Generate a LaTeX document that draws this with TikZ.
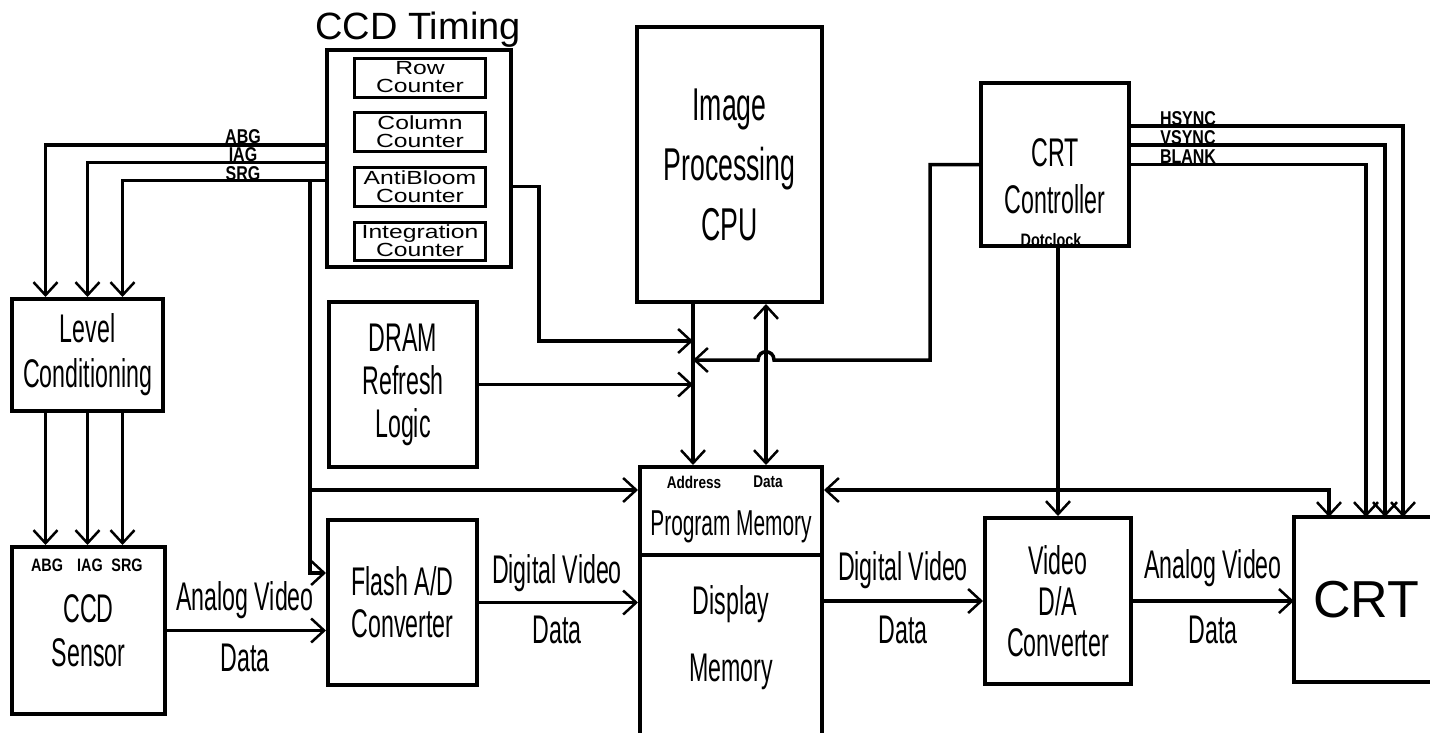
\documentclass[tikz,border=0pt]{standalone}
\usepackage{fontspec}
\setmainfont{Liberation Sans}
\newfontfamily\condfont{Liberation Sans}[FakeStretch=0.58]
\newfontfamily\tagfont{Liberation Sans}[FakeStretch=0.8]
\newfontfamily\wideface{Liberation Sans}[FakeStretch=1.3]
\usetikzlibrary{arrows.meta,positioning}
\tikzstyle{blk}=[rectangle,draw,line width=4pt,align=center,inner sep=0pt,font=\condfont\fontsize{40}{44}\selectfont]
\tikzstyle{ctr}=[rectangle,draw,line width=3pt,align=center,inner sep=0pt,minimum width=131pt,font=\wideface\fontsize{19}{18}\selectfont]
\tikzstyle{lbl}=[inner sep=0pt,align=center,font=\condfont\fontsize{40}{44}\selectfont]
\tikzstyle{tag}=[inner sep=0pt,font=\tagfont\bfseries\fontsize{20}{20}\selectfont]
\tikzstyle{arr}=[-{Straight Barb[length=13pt,width=24pt,line width=2.5pt]},line width=3.5pt]
\tikzstyle{arrs}=[{Straight Barb[length=13pt,width=24pt,line width=2.5pt]}-{Straight Barb[length=13pt,width=24pt,line width=2.5pt]},line width=3.5pt]

\begin{document}
\begin{tikzpicture}[x=1pt,y=-1pt]
\useasboundingbox (0,0) rectangle (1430,732);
\clip (0,0) rectangle (1430,732);
% timing block with its counters
\node[blk,minimum width=184pt,minimum height=217pt] (timing) at (419,158.5) {};
\node[inner sep=0pt,font=\fontsize{38}{40}\selectfont] (timingtitle) at (418,30) {CCD Timing};
\node[ctr,minimum height=39pt] (row) at (420,77.5) {Row\\Counter};
\node[ctr,minimum height=39pt] (column) at (420,132) {Column\\Counter};
\node[ctr,minimum height=39pt] (anti) at (420,186.5) {AntiBloom\\Counter};
\node[ctr,minimum height=38pt] (integ) at (420,241) {Integration\\Counter};
% main blocks
\node[blk,minimum width=185pt,minimum height=275pt,font=\condfont\fontsize{46}{60}\selectfont] (cpu) at (729.5,164.5) {Image\\Processing\\CPU};
\node[blk,minimum width=148pt,minimum height=163pt] (crtc) at (1055,164.5) {};
\node[lbl,font=\condfont\fontsize{40}{47}\selectfont] (crtctext) at (1055,176) {CRT\\Controller};
\node[blk,minimum width=151pt,minimum height=112pt,font=\condfont\fontsize{40}{45}\selectfont] (level) at (87.5,355) {Level\\Conditioning};
\node[blk,minimum width=148pt,minimum height=165pt,font=\condfont\fontsize{40}{43}\selectfont] (dram) at (403,384.5) {DRAM\\Refresh\\Logic};
\node[blk,minimum width=153pt,minimum height=167pt] (sensor) at (88.5,630.5) {CCD\\Sensor};
\node[blk,minimum width=149pt,minimum height=165pt,font=\condfont\fontsize{40}{42}\selectfont] (flash) at (402.5,602.5) {Flash A/D\\Converter};
\node[blk,minimum width=182pt,minimum height=88pt] (progmem) at (731,511) {};
\node[blk,minimum width=182pt,minimum height=200pt] (dispmem) at (731,655) {};
\node[blk,minimum width=146pt,minimum height=166pt,font=\condfont\fontsize{40}{41}\selectfont] (dac) at (1058,601) {Video\\D/A\\Converter};
\node[rectangle,inner sep=0pt,minimum width=180pt,minimum height=165pt] (crt) at (1384,599.5) {};
\draw[line width=4pt] (crt.north east) -- (crt.north west) -- (crt.south west) -- (crt.south east);
\node[inner sep=0pt,font=\fontsize{52}{56}\selectfont] (crttext) at (1366,599.5) {CRT};
% texts inside the memory
\node[lbl,font=\condfont\fontsize{36}{40}\selectfont] (pmtext) at (731,527) {Program Memory};
\node[lbl,font=\condfont\fontsize{40}{67}\selectfont] (disptext) at (731,638) {Display\\Memory};
\node[tag,font=\tagfont\bfseries\fontsize{17}{17}\selectfont] (addrtag) at (694,482) {Address};
\node[tag,font=\tagfont\bfseries\fontsize{17}{17}\selectfont] (datatag) at (768,482) {Data};
\node[tag,font=\tagfont\bfseries\fontsize{18}{18}\selectfont] (dottag) at (1051,240) {Dotclock};
\node[tag,font=\tagfont\bfseries\fontsize{18}{18}\selectfont] (sabg) at (47,565) {ABG};
\node[tag,font=\tagfont\bfseries\fontsize{18}{18}\selectfont] (siag) at (90,565) {IAG};
\node[tag,font=\tagfont\bfseries\fontsize{18}{18}\selectfont] (ssrg) at (127,565) {SRG};
% bus points
\coordinate (abus) at ([xshift=-36.5pt]cpu.south);
\coordinate (dbus) at ([xshift=36.5pt]cpu.south);
\path (abus) ++(0,37) coordinate (t1) ++(0,19) coordinate (t2);
\path (t2 -| dbus) ++(8,0) coordinate (hopR) ++(-16,0) coordinate (hopL);
\coordinate (tap) at (310,180.5);
\coordinate (tapm) at (310,490);
\coordinate (dj) at (dac.north |- tapm);
\coordinate (crtin) at (1329,517);
% clock lines to the level conditioning
\draw[arr] ([yshift=13.5pt]timing.west) -| ([xshift=-42pt]level.north);
\draw[arr] ([yshift=-4pt]timing.west) -| (level.north);
\draw[arr] ([yshift=-22pt]timing.west) -| ([xshift=35pt]level.north);
\node[tag] (labg) at (243,137) {ABG};
\node[tag] (liag) at (243,155) {IAG};
\node[tag] (lsrg) at (243,174) {SRG};
\draw[arr] ([xshift=-42pt]level.south) -- ([xshift=-42pt]level.south |- sensor.north);
\draw[arr] (level.south) -- (level.south |- sensor.north);
\draw[arr] ([xshift=35pt]level.south) -- ([xshift=35pt]level.south |- sensor.north);
% SRG tap
\draw[arr] (tap) |- ([yshift=29.5pt]flash.west);
\draw[arr] (tapm) -- (tapm -| progmem.west);
% video path
\draw[arr] (sensor.east) -- (sensor.east -| flash.west);
\node[lbl] (av1) at (245,600) {Analog Video};
\node[lbl] (dt1) at (245,658) {Data};
\draw[arr] (flash.east) -- (flash.east -| dispmem.west);
\node[lbl] (dv1) at (557,573) {Digital Video};
\node[lbl] (dt2) at (557,630) {Data};
\draw[arr] (dac.west -| dispmem.east) -- (dac.west);
\node[lbl] (dv2) at (903,570) {Digital Video};
\node[lbl] (dt3) at (903,630) {Data};
\draw[arr] (dac.east) -- (dac.east -| crt.west);
\node[lbl] (av2) at (1213,568) {Analog Video};
\node[lbl] (dt4) at (1213,630) {Data};
% cpu buses
\draw[arr] (abus) -- (abus |- progmem.north);
\draw[arrs] (dbus) -- (dbus |- progmem.north);
\draw[arr] (timing.east |- anti.east) -- ++(26,0) |- (t1);
\draw[arr] (dram.east) -- (dram.east -| abus);
\draw[arr] (crtc.west) -- ++(-49,0) |- (hopR) .. controls +(0,-11) and +(0,-11) .. (hopL) -- (t2);
% crt controller outputs
\draw[arr] (crtc.south -| dac.north) -- (dac.north);
\draw[arr] (dj) -- (dj -| progmem.east);
\draw[arr] (dj) -| (crtin);
\draw[arr] ([yshift=38.5pt]crtc.east) -| ([xshift=74pt]crtin);
\draw[arr] ([yshift=19.5pt]crtc.east) -| ([xshift=56pt]crtin);
\draw[arr] (crtc.east) -| ([xshift=37pt]crtin);
\node[tag] (lhs) at (1188,119) {HSYNC};
\node[tag] (lvs) at (1188,138) {VSYNC};
\node[tag] (lbl) at (1188,157) {BLANK};
\end{tikzpicture}
\end{document}
